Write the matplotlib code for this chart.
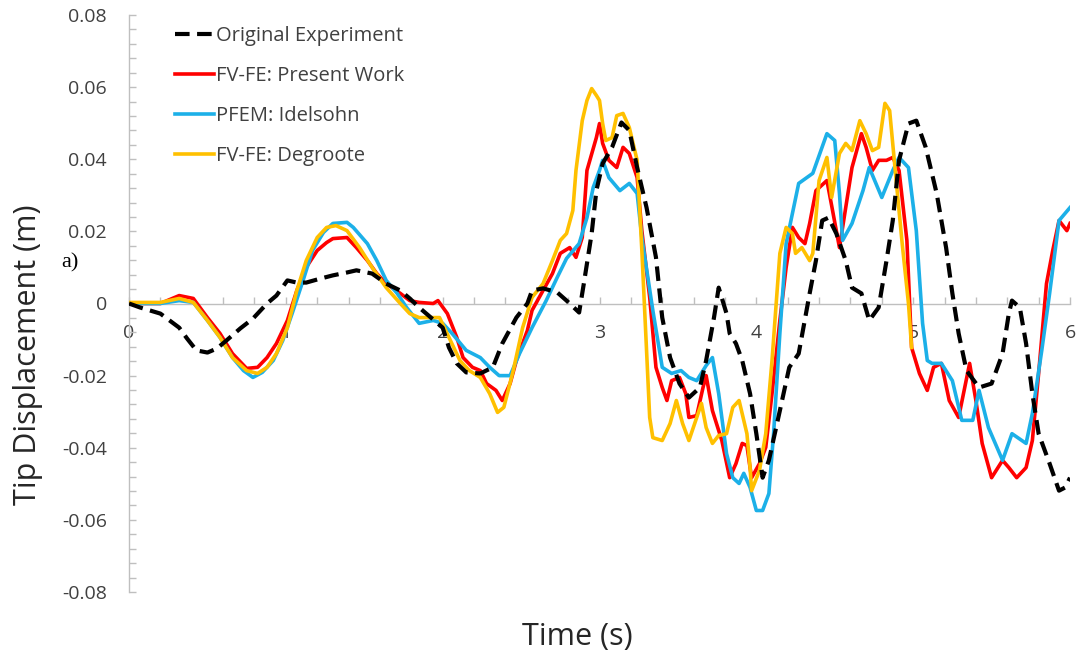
import numpy as np
import matplotlib
matplotlib.use("Agg")
import matplotlib.pyplot as plt
from matplotlib.ticker import MultipleLocator, FuncFormatter

# ---- data (time in s, displacement in mm, converted to m below) ----
t_exp = [0.00,0.07,0.20,0.32,0.37,0.43,0.50,0.56,0.62,0.71,0.79,0.88,0.94,1.01,1.07,1.13,1.22,1.30,1.39,1.45,
         1.55,1.64,1.73,1.79,1.85,2.00,2.04,2.09,2.15,2.24,2.32,2.38,2.47,2.54,2.57,2.64,2.73,2.79,2.87,2.90,
         2.95,2.98,3.02,3.08,3.14,3.19,3.24,3.30,3.36,3.40,3.45,3.51,3.57,3.64,3.68,3.73,3.76,3.81,3.83,3.87,
         3.91,3.96,4.00,4.04,4.08,4.15,4.21,4.27,4.34,4.38,4.42,4.46,4.51,4.57,4.61,4.67,4.72,4.78,4.83,4.87,
         4.91,4.97,5.02,5.08,5.15,5.21,5.25,5.29,5.34,5.42,5.50,5.57,5.61,5.63,5.68,5.72,5.76,5.80,5.87,5.93,
         5.97,6.00]
y_exp_mm = [0,-1.1,-2.8,-6.7,-9.7,-13.0,-13.6,-12.5,-10.3,-6.9,-4.2,0,2.2,6.4,5.8,5.8,6.9,7.8,8.6,9.2,
            8.3,5.5,3.6,1.4,-1.1,-6.7,-12.2,-16.6,-19.1,-19.4,-17.7,-11.1,-3.9,0,3.6,4.2,3.1,0.8,-2.5,5.5,
            19.4,31.3,38.8,43.3,50.2,48.0,37.7,26.6,12.8,-3.9,-15.0,-22.2,-26.1,-23.3,-15.8,-3.9,4.4,-2.8,-8.3,-11.1,
            -15.8,-25.0,-36.1,-48.3,-43.5,-29.7,-17.7,-13.9,2.8,11.9,23.0,23.8,19.4,11.9,4.4,2.8,-4.7,-1.1,11.9,23.0,
            39.7,49.9,50.7,43.3,30.5,15.5,2.8,-8.3,-18.6,-23.3,-22.2,-13.9,-2.8,0.8,-1.1,-11.1,-25.0,-36.1,-44.4,-51.9,
            -51.0,-48.3]

t_fvfe = [0.00,0.20,0.32,0.41,0.50,0.58,0.66,0.75,0.82,0.88,0.94,1.01,1.07,1.13,1.20,1.26,1.30,1.39,1.45,1.52,
          1.58,1.64,1.73,1.79,1.85,1.94,1.97,2.03,2.09,2.13,2.19,2.24,2.28,2.34,2.38,2.43,2.47,2.54,2.57,2.64,
          2.70,2.75,2.81,2.85,2.89,2.92,2.98,3.00,3.02,3.06,3.11,3.15,3.19,3.24,3.27,3.32,3.36,3.40,3.43,3.46,
          3.51,3.55,3.57,3.62,3.66,3.68,3.72,3.78,3.83,3.87,3.91,3.94,3.96,3.97,4.02,4.06,4.10,4.15,4.19,4.23,
          4.27,4.31,4.34,4.38,4.45,4.48,4.53,4.57,4.61,4.67,4.70,4.74,4.78,4.83,4.87,4.91,4.96,4.99,5.04,5.09,
          5.13,5.18,5.23,5.29,5.36,5.40,5.44,5.50,5.57,5.61,5.66,5.72,5.76,5.80,5.85,5.89,5.93,5.98,6.00]
y_fvfe_mm = [0,0,2.2,1.4,-3.9,-8.3,-13.9,-18.0,-17.7,-15.0,-11.1,-4.7,3.6,10.0,14.7,16.9,18.0,18.3,15.5,11.9,
             8.3,5.5,2.8,0.8,0.3,0,0.8,-2.8,-9.4,-15.0,-17.7,-18.6,-22.2,-24.1,-26.9,-22.2,-15.8,-7.5,-1.9,3.6,
             8.3,13.9,15.5,12.8,18.3,36.9,46.0,49.9,44.4,39.7,37.7,43.3,41.6,34.9,20.2,1.7,-17.7,-23.3,-26.9,-21.4,
             -20.5,-25.0,-31.6,-31.1,-23.3,-20.0,-29.7,-38.0,-48.3,-44.4,-38.8,-39.4,-45.5,-48.3,-44.4,-39.9,-25.0,-4.7,10.0,21.1,
             18.3,16.6,22.2,31.3,34.1,27.2,15.5,26.6,37.7,47.1,43.3,36.9,39.7,39.7,40.5,36.9,17.5,-12.2,-19.4,-24.1,
             -17.7,-16.6,-26.9,-31.6,-16.6,-26.9,-38.8,-48.3,-43.5,-45.5,-48.3,-45.5,-38.0,-19.4,5.5,14.7,23.0,20.2,22.2]

t_pfem = [0.00,0.20,0.32,0.41,0.50,0.58,0.66,0.73,0.79,0.85,0.92,0.98,1.04,1.11,1.17,1.24,1.30,1.39,1.43,1.52,
          1.58,1.64,1.71,1.77,1.85,1.94,2.00,2.06,2.15,2.24,2.30,2.36,2.43,2.49,2.57,2.66,2.73,2.79,2.87,2.92,
          2.96,3.00,3.02,3.06,3.13,3.19,3.24,3.27,3.34,3.40,3.46,3.52,3.57,3.62,3.68,3.72,3.76,3.81,3.85,3.89,
          3.92,3.96,4.00,4.04,4.08,4.11,4.15,4.19,4.27,4.36,4.45,4.50,4.53,4.55,4.61,4.68,4.72,4.80,4.87,4.91,
          4.97,5.02,5.06,5.09,5.12,5.18,5.25,5.31,5.38,5.42,5.48,5.57,5.63,5.72,5.76,5.82,5.87,5.93,6.00]
y_pfem_mm = [0,0,0.8,0.3,-4.7,-9.4,-15.0,-18.6,-20.5,-19.1,-15.8,-10.3,-2.8,6.4,14.7,19.7,22.2,22.5,21.1,16.6,
             11.9,6.4,2.8,-1.1,-5.5,-4.7,-5.5,-8.3,-13.0,-15.0,-17.7,-20.0,-20.0,-13.9,-6.7,0.8,7.2,12.5,16.6,23.8,
             32.2,36.9,39.7,34.9,31.3,33.3,30.5,18.3,-1.9,-17.7,-19.4,-18.6,-20.5,-21.4,-17.2,-15.0,-25.0,-41.6,-48.3,-49.9,
             -47.1,-51.0,-57.4,-57.4,-52.7,-36.1,-8.3,16.6,33.3,36.1,47.1,45.2,30.5,17.5,22.2,31.3,37.7,29.4,36.9,40.5,
             37.7,20.2,-5.5,-15.8,-16.6,-16.6,-21.4,-32.4,-32.4,-24.1,-34.4,-43.5,-36.1,-38.8,-30.5,-13.0,2.8,23.0,26.6]

t_degr = [0.00,0.20,0.32,0.41,0.50,0.58,0.66,0.75,0.82,0.88,0.94,1.01,1.07,1.13,1.20,1.26,1.32,1.39,1.47,1.55,
          1.64,1.73,1.79,1.85,1.94,1.98,2.04,2.11,2.17,2.24,2.30,2.35,2.39,2.45,2.51,2.57,2.64,2.70,2.75,2.79,
          2.83,2.85,2.89,2.92,2.95,2.98,3.00,3.02,3.04,3.08,3.11,3.15,3.19,3.24,3.25,3.27,3.30,3.32,3.34,3.40,
          3.45,3.49,3.53,3.57,3.62,3.65,3.68,3.72,3.76,3.81,3.85,3.89,3.94,3.96,3.97,4.02,4.06,4.10,4.15,4.19,
          4.23,4.25,4.29,4.34,4.36,4.40,4.45,4.48,4.53,4.57,4.61,4.66,4.70,4.74,4.78,4.82,4.85,4.89,4.93,4.97,
          4.99]
y_degr_mm = [0.3,0.3,1.4,0.3,-4.7,-9.4,-15.0,-18.6,-19.4,-17.7,-13.9,-6.7,3.6,11.9,18.3,21.1,21.6,20.2,15.5,10.0,
             4.4,0,-2.8,-3.9,-3.9,-3.9,-9.4,-15.8,-18.6,-20.5,-25.0,-30.2,-28.8,-18.6,-6.7,1.7,5.5,11.9,17.5,19.4,
             25.8,36.9,50.7,56.3,59.6,57.7,56.3,49.9,45.2,46.0,52.1,52.7,48.8,39.7,31.3,14.7,-13.0,-31.6,-37.2,-38.0,
             -33.3,-26.9,-33.3,-38.0,-31.6,-27.7,-34.4,-38.8,-36.6,-36.1,-28.8,-26.9,-36.1,-45.5,-51.9,-46.3,-36.1,-15.8,13.9,21.1,
             19.4,13.9,15.5,11.9,13.9,34.1,40.5,29.4,41.6,44.4,42.4,50.7,47.1,42.4,43.3,55.5,53.5,34.9,16.6,0,
             -12.2]

labels = ["Original Experiment", "FV-FE: Present Work", "PFEM: Idelsohn", "FV-FE: Degroote"]
colors = ["#000000", "#FF0000", "#1CB0E8", "#FFC000"]

# ---- figure ----
W, H = 1078, 663
fig = plt.figure(figsize=(W / 100, H / 100), dpi=100)
ax = fig.add_axes([129 / W, 1 - 592 / H, (1070 - 129) / W, (592 - 15) / H])

font = "Open Sans"
gray_axis = "#BFBFBF"
txt = "#404040"

to_m = lambda v: np.asarray(v) * 1e-3
ax.plot(t_fvfe, to_m(y_fvfe_mm), color=colors[1], lw=2.6, label=labels[1], zorder=3)
ax.plot(t_pfem, to_m(y_pfem_mm), color=colors[2], lw=2.6, label=labels[2], zorder=3)
ax.plot(t_degr, to_m(y_degr_mm), color=colors[3], lw=2.6, label=labels[3], zorder=3)
ax.plot(t_exp, to_m(y_exp_mm), color=colors[0], lw=3.0, linestyle=(0, (3.5, 1.8)),
        label=labels[0], zorder=4)

ax.set_xlim(0, 6)
ax.set_ylim(-0.08, 0.08)

for s in ["top", "right"]:
    ax.spines[s].set_visible(False)
ax.spines["bottom"].set_position(("data", 0))
ax.spines["bottom"].set_color(gray_axis)
ax.spines["left"].set_color(gray_axis)
ax.spines["bottom"].set_linewidth(1.0)
ax.spines["left"].set_linewidth(1.0)

ax.xaxis.set_major_locator(MultipleLocator(1))
ax.xaxis.set_minor_locator(MultipleLocator(0.2))
ax.yaxis.set_major_locator(MultipleLocator(0.02))
ax.yaxis.set_minor_locator(MultipleLocator(0.004))
ax.yaxis.set_major_formatter(FuncFormatter(lambda v, p: "0" if abs(v) < 1e-9 else f"{v:.2f}"))
ax.xaxis.set_major_formatter(FuncFormatter(lambda v, p: f"{v:.0f}"))

ax.tick_params(axis="x", which="both", direction="in", length=5, width=1, color=gray_axis,
               labelsize=14, labelcolor=txt, pad=15)
ax.tick_params(axis="y", which="both", direction="in", length=5, width=1, color=gray_axis,
               labelsize=14, labelcolor=txt, pad=16)
for lab in ax.get_xticklabels() + ax.get_yticklabels():
    lab.set_fontfamily(font)

fig.text(577 / W, 1 - 637 / H, "Time (s)", ha="center", va="center",
         fontsize=22, family=font, color="#262626")
fig.text(28 / W, 1 - 355 / H, "Tip Displacement (m)", ha="center", va="center",
         rotation=90, fontsize=22, family=font, color="#262626")
fig.text(70 / W, 1 - 263 / H, "a)", ha="center", va="center", fontsize=16,
         family="Liberation Serif", color="black")

handles, labs = ax.get_legend_handles_labels()
order = [labs.index(l) for l in labels]
leg = fig.legend([handles[i] for i in order], [labs[i] for i in order],
                 loc="upper left", bbox_to_anchor=(175 / W, 1 - 26 / H),
                 frameon=False, borderpad=0, borderaxespad=0,
                 handlelength=1.95, handletextpad=0.1, labelspacing=1.0,
                 prop={"family": font, "size": 14.5})
for t in leg.get_texts():
    t.set_color(txt)

fig.savefig("out.png", dpi=100)
